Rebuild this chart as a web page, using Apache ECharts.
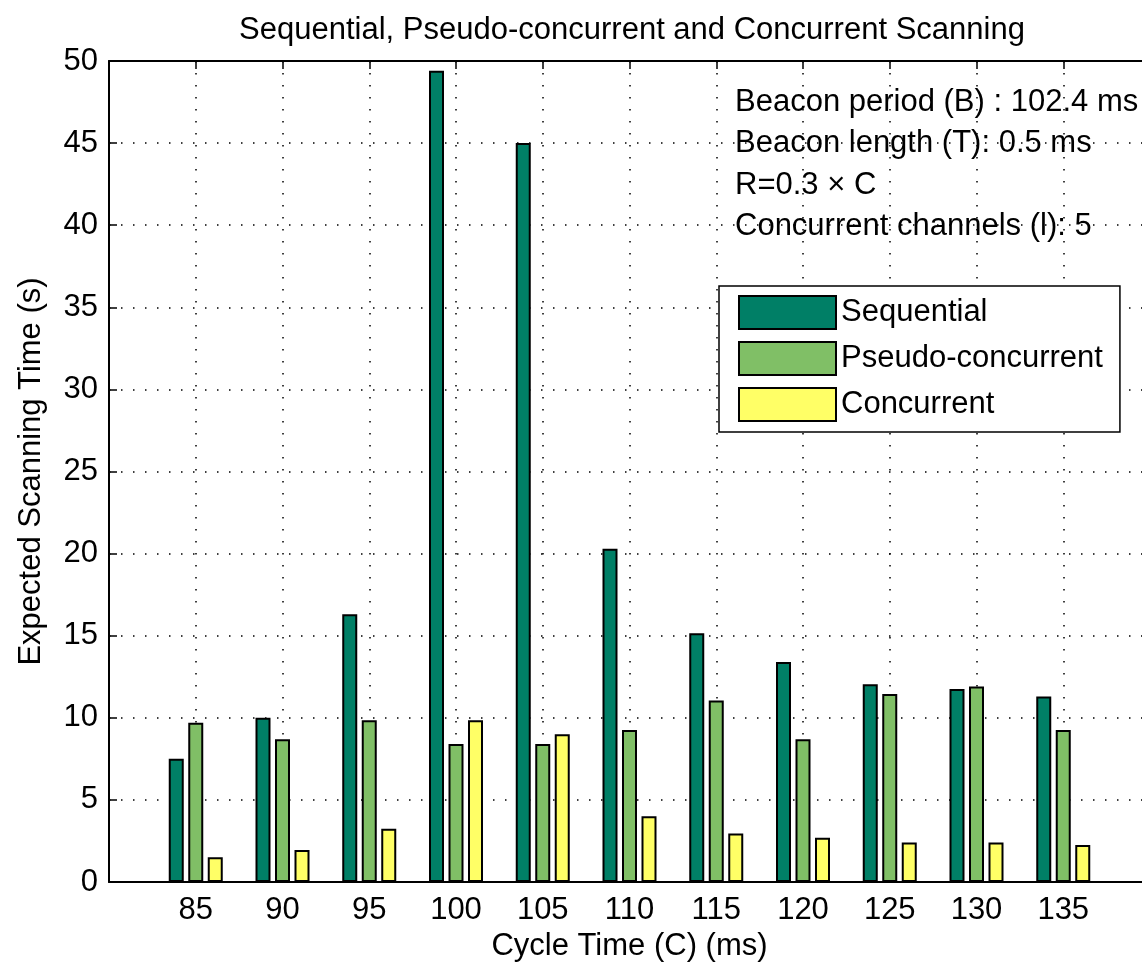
<!DOCTYPE html>
<html>
<head>
<meta charset="utf-8">
<title>Sequential, Pseudo-concurrent and Concurrent Scanning</title>
<script src="https://cdn.jsdelivr.net/npm/echarts@6/dist/echarts.min.js"></script>
<style>
  html, body { margin: 0; padding: 0; background: #fff; overflow: hidden; }
  /* the axes run a little past the right edge of the window, as in the figure */
  #chart { width: 1160px; height: 971px; }
</style>
</head>
<body>
<div id="chart"></div>
<script>
// ---- data ----
const cycleTimes = [85, 90, 95, 100, 105, 110, 115, 120, 125, 130, 135];
const sequential = [7.5, 10.0, 16.3, 49.4, 45.0, 20.3, 15.15, 13.4, 12.05, 11.75, 11.3];
const pseudoConcurrent = [9.7, 8.7, 9.85, 8.4, 8.4, 9.25, 11.05, 8.7, 11.45, 11.9, 9.25];
const concurrent = [1.5, 1.95, 3.25, 9.85, 9.0, 4.0, 2.95, 2.7, 2.4, 2.4, 2.25];
const seriesNames = ["Sequential", "Pseudo-concurrent", "Concurrent"];
const noteLines = [
  "Beacon period (B) : 102.4 ms",
  "Beacon length (T): 0.5 ms",
  "R=0.3 \u00d7 C",
  "Concurrent channels (l): 5"
];

const FONT = "'Liberation Sans', Arial, sans-serif";
const FS = 31;
const colors = ["#007f66", "#80bf66", "#ffff66"];

const chart = echarts.init(document.getElementById("chart"), null, { renderer: "canvas" });

const dotted = { color: "#000", width: 1.5, type: [1.5, 10.5] };

function pairs(vals) {
  return cycleTimes.map((c, i) => [c, vals[i]]);
}

function barSeries(name, vals, color) {
  return {
    name: name,
    type: "bar",
    data: pairs(vals),
    barWidth: 15,
    barGap: "30%",
    itemStyle: { color: color, borderColor: "#000", borderWidth: 2 }
  };
}

const option = {
  animation: false,
  backgroundColor: "#fff",
  textStyle: { fontFamily: FONT },

  title: {
    text: "Sequential, Pseudo-concurrent and Concurrent Scanning",
    left: 627,
    top: 10,
    textAlign: "center",
    textStyle: { fontFamily: FONT, fontSize: FS, fontWeight: "normal", color: "#000" }
  },

  grid: { left: 109, right: 10, top: 61, bottom: 89, containLabel: false },

  legend: {
    orient: "vertical",
    left: 719,
    top: 286,
    data: seriesNames,
    itemWidth: 97,
    itemHeight: 33,
    itemGap: 11,
    padding: [9, 17, 10, 19],
    backgroundColor: "#fff",
    borderColor: "#000",
    borderWidth: 1.5,
    borderRadius: 0,
    icon: "rect",
    itemStyle: { borderColor: "#000", borderWidth: 2 },
    textStyle: { fontFamily: FONT, fontSize: FS, color: "#000" }
  },

  xAxis: [
    {
      type: "value",
      min: 80,
      max: 140,
      interval: 5,
      name: "Cycle Time (C) (ms)",
      nameLocation: "middle",
      nameGap: 46,
      nameTextStyle: { fontFamily: FONT, fontSize: FS, color: "#000" },
      axisLine: { show: true, onZero: false, lineStyle: { color: "#000", width: 2 } },
      axisTick: { show: true, inside: true, length: 8, lineStyle: { color: "#000", width: 1.5 } },
      axisLabel: {
        margin: 13,
        fontFamily: FONT,
        fontSize: FS,
        color: "#000",
        formatter: v => (cycleTimes.indexOf(v) >= 0 ? String(v) : "")
      },
      splitLine: { show: true, lineStyle: dotted }
    },
    {
      // top edge of the box, ticks only
      type: "value",
      position: "top",
      min: 80,
      max: 140,
      interval: 5,
      axisLine: { show: true, onZero: false, lineStyle: { color: "#000", width: 2 } },
      axisTick: { show: true, inside: true, length: 8, lineStyle: { color: "#000", width: 1.5 } },
      axisLabel: { show: false },
      splitLine: { show: false }
    }
  ],

  yAxis: {
    type: "value",
    min: 0,
    max: 50,
    interval: 5,
    name: "Expected Scanning Time (s)",
    nameLocation: "middle",
    nameGap: 62,
    nameTextStyle: { fontFamily: FONT, fontSize: FS, color: "#000" },
    axisLine: { show: true, lineStyle: { color: "#000", width: 2 } },
    axisTick: { show: true, inside: true, length: 8, lineStyle: { color: "#000", width: 1.5 } },
    axisLabel: { margin: 11, fontFamily: FONT, fontSize: FS, color: "#000" },
    splitLine: { show: true, lineStyle: dotted }
  },

  // parameter notes in the top right corner
  graphic: noteLines.map((line, i) => ({
    type: "text",
    left: 735,
    top: 87 + i * 41.3,
    z: 10,
    style: { text: line, font: FS + "px " + FONT, fill: "#000" }
  })),

  series: [
    barSeries(seriesNames[0], sequential, colors[0]),
    barSeries(seriesNames[1], pseudoConcurrent, colors[1]),
    barSeries(seriesNames[2], concurrent, colors[2])
  ]
};

chart.setOption(option);
</script>
</body>
</html>
